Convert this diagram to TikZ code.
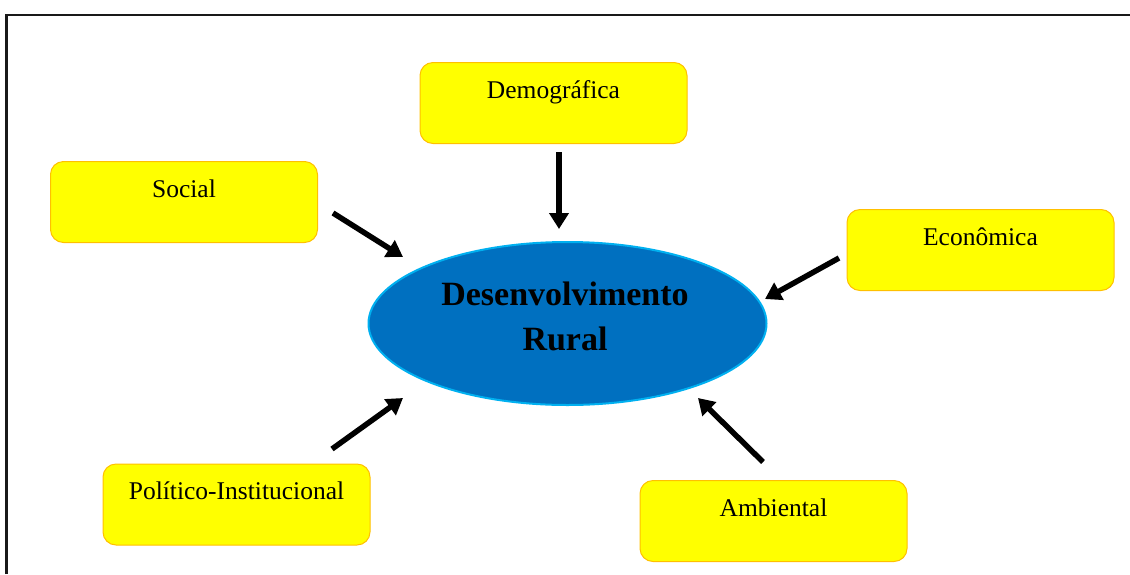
\documentclass[tikz,border=0pt]{standalone}
\usepackage{fontspec}
\setmainfont{Liberation Serif}
\usetikzlibrary{arrows.meta,shapes.geometric}
\definecolor{boxfill}{RGB}{255,255,0}
\definecolor{boxline}{RGB}{255,192,0}
\definecolor{ellfill}{RGB}{0,112,192}
\definecolor{ellline}{RGB}{0,176,240}
\tikzset{
  factor/.style={draw=boxline, fill=boxfill, line width=1pt, rounded corners=13pt,
    minimum width=267pt, minimum height=81pt, inner sep=0pt},
  lbl/.style={font=\fontsize{25.5}{30}\selectfont, inner sep=0pt, anchor=base},
  influence/.style={line width=5.5pt, -{Triangle[width=19pt,length=16pt]}},
  frameline/.style={line width=2.6pt, draw=black!90}
}
\begin{document}
\begin{tikzpicture}[x=1pt,y=-1pt]
\useasboundingbox (0,0) rectangle (1130,574);
% frame (open on right and bottom)
\coordinate (fbl) at (6.5,574);
\coordinate (ftl) at (6.5,15);
\coordinate (ftr) at (1130,15);
\draw[frameline] (fbl) -- (ftl) -- (ftr);

% central ellipse
\node[ellipse, draw=ellline, fill=ellfill, line width=2pt,
      minimum width=398pt, minimum height=163pt, inner sep=0pt] (core) at (567.5,323.5) {};
\node[font=\fontsize{34}{45}\selectfont\bfseries, align=center, inner sep=0pt] (coretxt) at (565,316) {Desenvolvimento\\Rural};

% boxes
\node[factor] (demo) at (553.5,103) {};
\node[factor] (soc)  at (184,202) {};
\node[factor] (eco)  at (980.5,250) {};
\node[factor] (pol)  at (236.5,504.5) {};
\node[factor] (amb)  at (773.5,521) {};

\node[lbl] (tdemo) at ([yshift=-36pt]demo.north) {Demográfica};
\node[lbl] (tsoc)  at ([yshift=-36pt]soc.north) {Social};
\node[lbl] (teco)  at ([yshift=-36pt]eco.north) {Econômica};
\node[lbl] (tpol)  at ([yshift=-36pt]pol.north) {Político-Institucional};
\node[lbl] (tamb)  at ([yshift=-36pt]amb.north) {Ambiental};

% arrow end points
\coordinate (ademo1) at (559,152);
\coordinate (ademo2) at (559,229);
\coordinate (asoc1) at (333,213);
\coordinate (asoc2) at (403,257);
\coordinate (aeco1) at (839,258);
\coordinate (aeco2) at (765,299);
\coordinate (apol1) at (332,449);
\coordinate (apol2) at (403,398);
\coordinate (aamb1) at (763,462);
\coordinate (aamb2) at (698,398);

\draw[influence] (ademo1) -- (ademo2);
\draw[influence] (asoc1) -- (asoc2);
\draw[influence] (aeco1) -- (aeco2);
\draw[influence] (apol1) -- (apol2);
\draw[influence] (aamb1) -- (aamb2);
\end{tikzpicture}
\end{document}
